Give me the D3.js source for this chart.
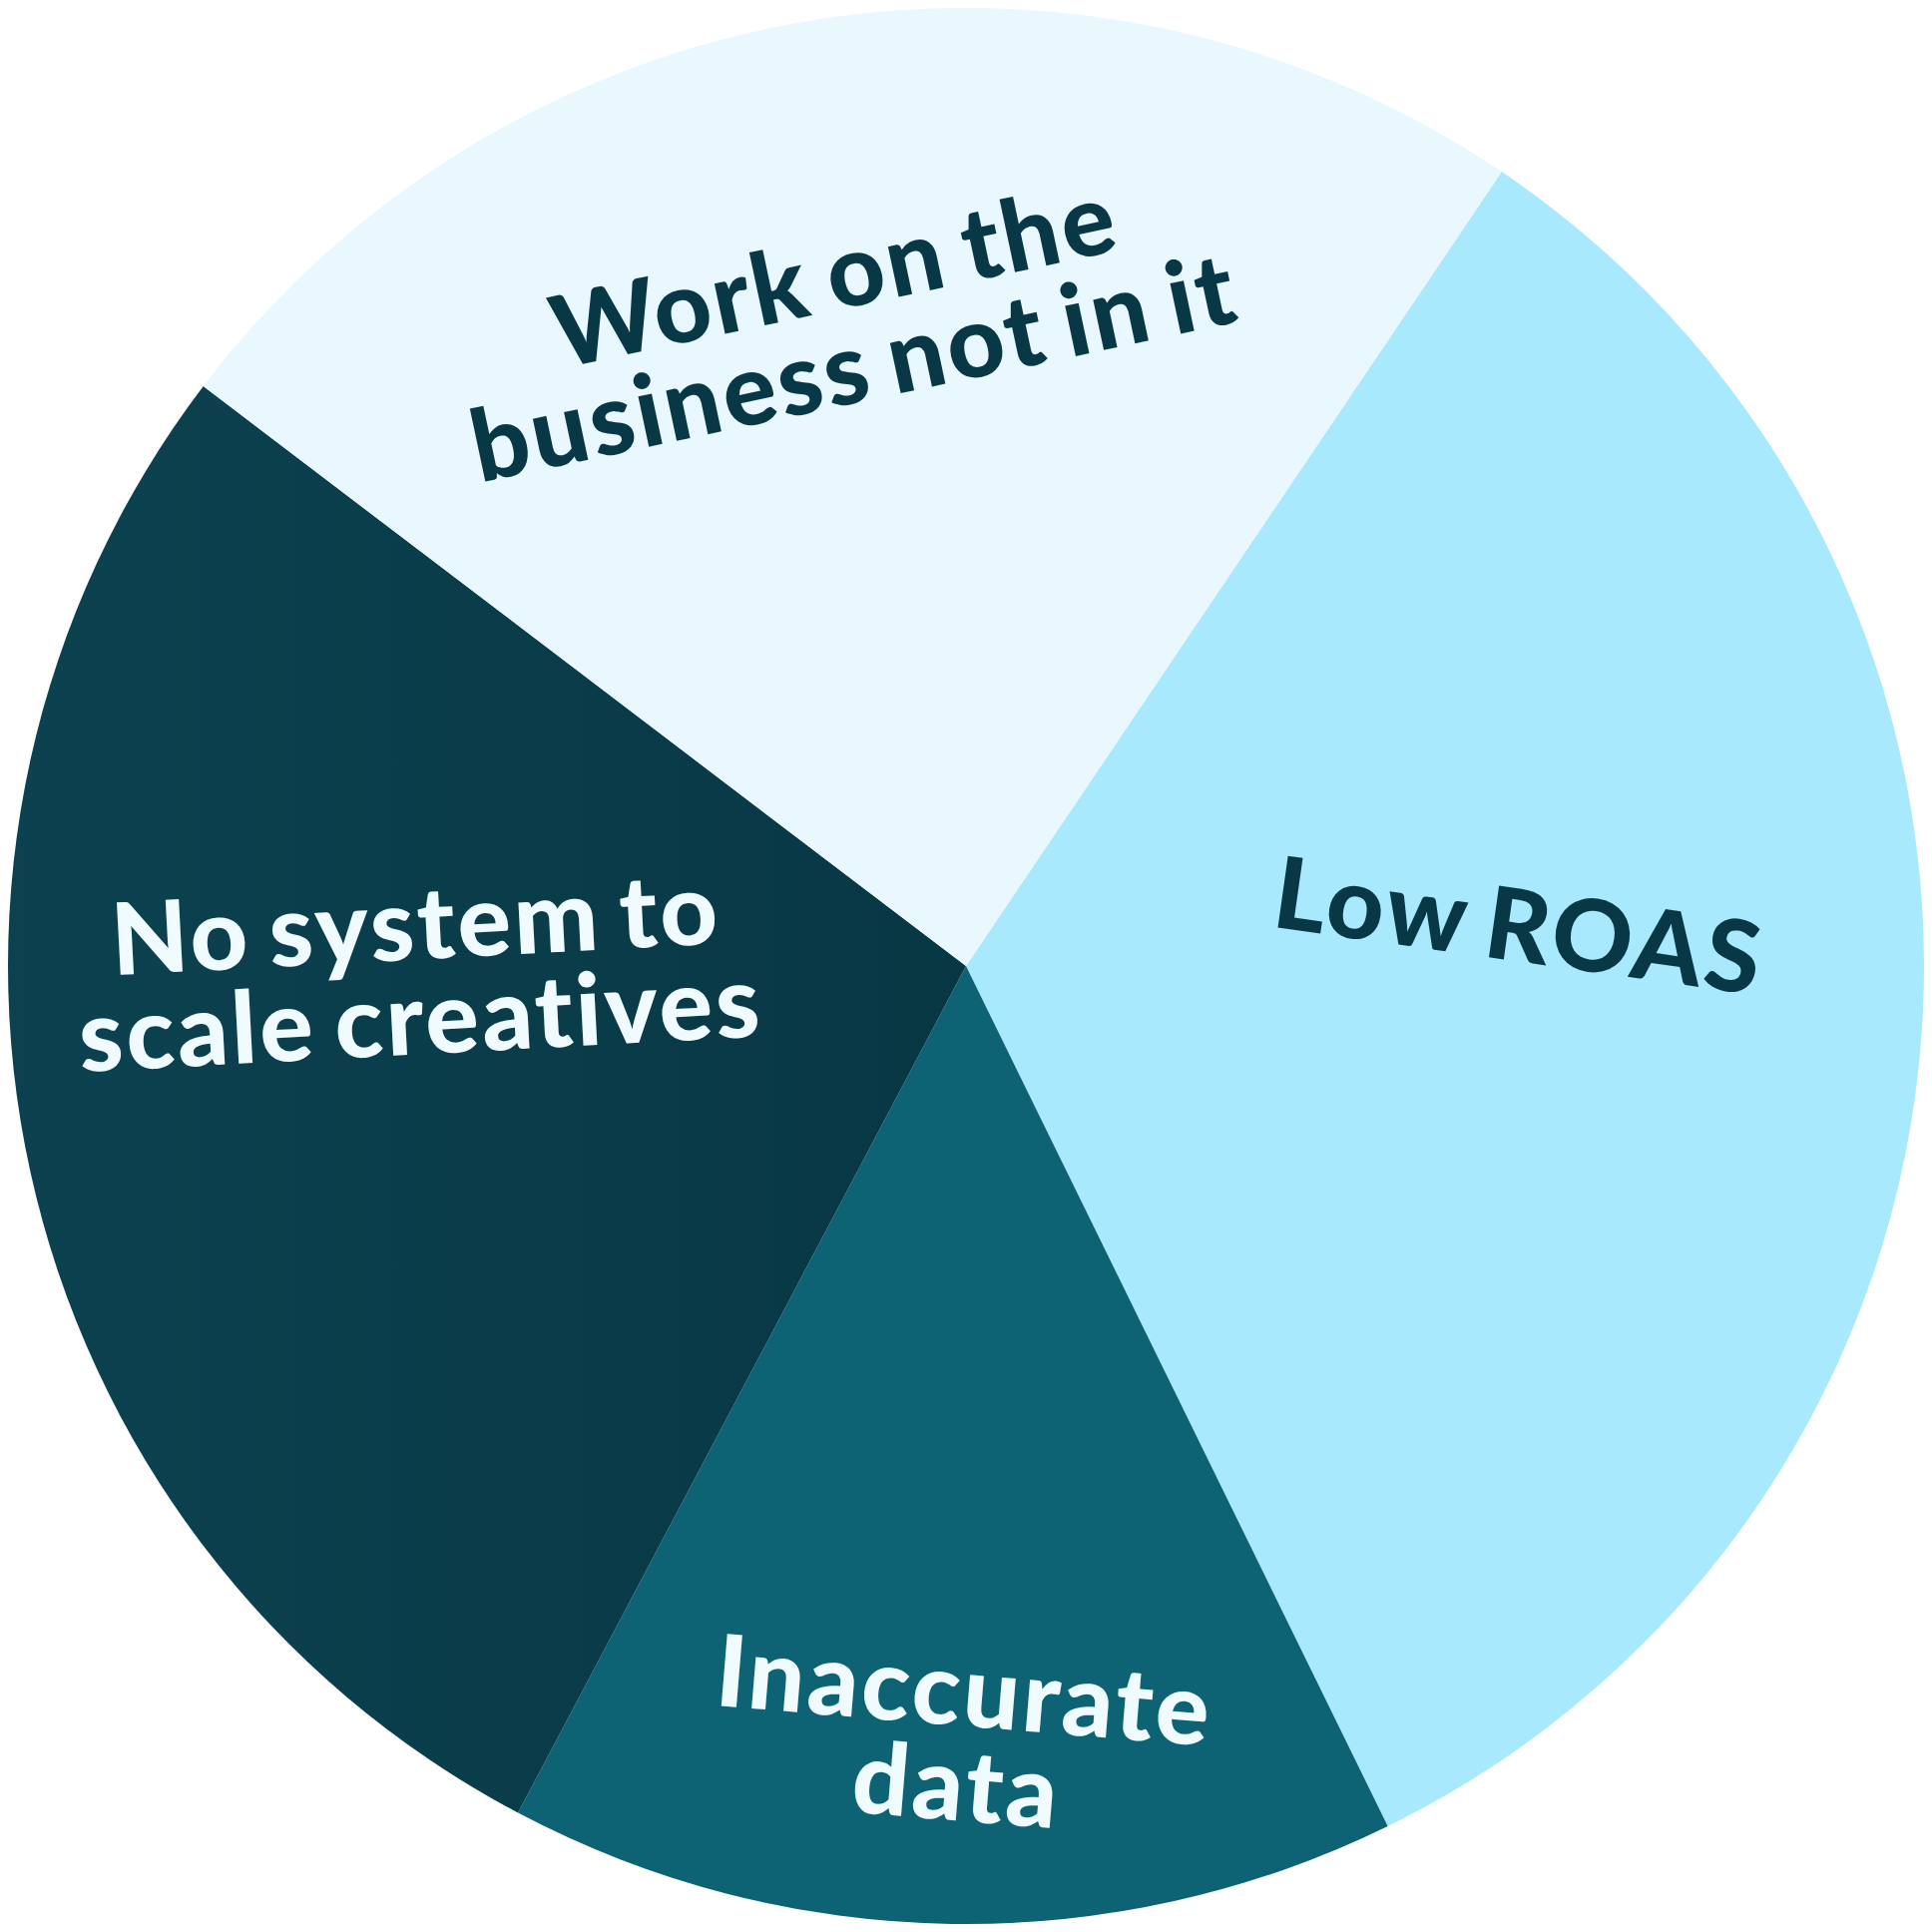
<!DOCTYPE html>
<html>
<head>
<meta charset="utf-8">
<script src="https://cdn.jsdelivr.net/npm/d3@7"></script>
<style>
  html, body { margin: 0; padding: 0; background: #ffffff; }
  svg { display: block; }
  .label { font-family: Lato, "Open Sans", sans-serif; font-weight: 900; }
</style>
</head>
<body>
<div id="figure"><svg></svg></div>
<script>
// Data (share of answers, in %)
var categories = ["Low ROAS", "Inaccurate data", "No system to scale creatives", "Work on the business not in it"];
var values = [33.3, 15.0, 27.6, 24.1];
var labelLines = [["Low ROAS"], ["Inaccurate", "data"], ["No system to", "scale creatives"], ["Work on the", "business not in it"]];

// Styles
var fills = ["#a9e9fd", "#0d6274", "url(#darkGrad)", "#e8f8fe"];
var textColors = ["#083845", "#effbfe", "#effbfe", "#083845"];

// Label placement: angle (deg, clockwise from 12 o'clock), radius fraction, rotation (deg)
var labelLayout = [
  {angle: 85.8, r: 0.579, rot: 8},
  {angle: 180.4, r: 0.805, rot: 4.7},
  {angle: 269.5, r: 0.572, rot: -3},
  {angle: 349.3, r: 0.686, rot: -12}
];

var width = 1936;
var height = 1936;
var cx = 968, cy = 968;
var radius = 960;
var fontSize = 100;
var lineHeight = 95;
var capHeight = 72;

var g = d3.select("#figure").select("svg")
  .attr("width", width).attr("height", height);

// gradient for the dark slice (coords are in the centred chart group)
var grad = g.append("defs").append("linearGradient")
  .attr("id", "darkGrad")
  .attr("gradientUnits", "userSpaceOnUse")
  .attr("x1", -radius).attr("y1", 0)
  .attr("x2", 0).attr("y2", 0);
grad.append("stop").attr("offset", "0%").attr("stop-color", "#0c4250");
grad.append("stop").attr("offset", "100%").attr("stop-color", "#083744");

var data = categories.map(function (c, i) {
  return {name: c, value: values[i], i: i};
});

var start = 34 * Math.PI / 180;
var pie = d3.pie()
  .sort(null)
  .value(function (d) { return d.value; })
  .startAngle(start)
  .endAngle(start + 2 * Math.PI);

var arc = d3.arc().innerRadius(0).outerRadius(radius);

var chart = g.append("g").attr("transform", "translate(" + cx + "," + cy + ")");

chart.selectAll("path.slice")
  .data(pie(data))
  .enter()
  .append("path")
  .attr("class", "slice")
  .attr("d", arc)
  .attr("fill", function (d) { return fills[d.data.i]; });

// labels
var labels = chart.selectAll("g.label")
  .data(data)
  .enter()
  .append("g")
  .attr("class", "label")
  .attr("transform", function (d) {
    var L = labelLayout[d.i];
    var a = L.angle * Math.PI / 180;
    var x = Math.sin(a) * L.r * radius;
    var y = -Math.cos(a) * L.r * radius;
    return "translate(" + x + "," + y + ") rotate(" + L.rot + ")";
  });

labels.each(function (d) {
  var lines = labelLines[d.i];
  var n = lines.length;
  d3.select(this).selectAll("text")
    .data(lines)
    .enter()
    .append("text")
    .attr("text-anchor", "middle")
    .attr("x", 0)
    .attr("y", function (t, k) { return (k - (n - 1) / 2) * lineHeight + capHeight / 2; })
    .attr("fill", textColors[d.i])
    .attr("font-size", fontSize)
    .style("letter-spacing", "3px")
    .style("word-spacing", "-8px")
    .text(function (t) { return t; });
});
</script>
</body>
</html>
